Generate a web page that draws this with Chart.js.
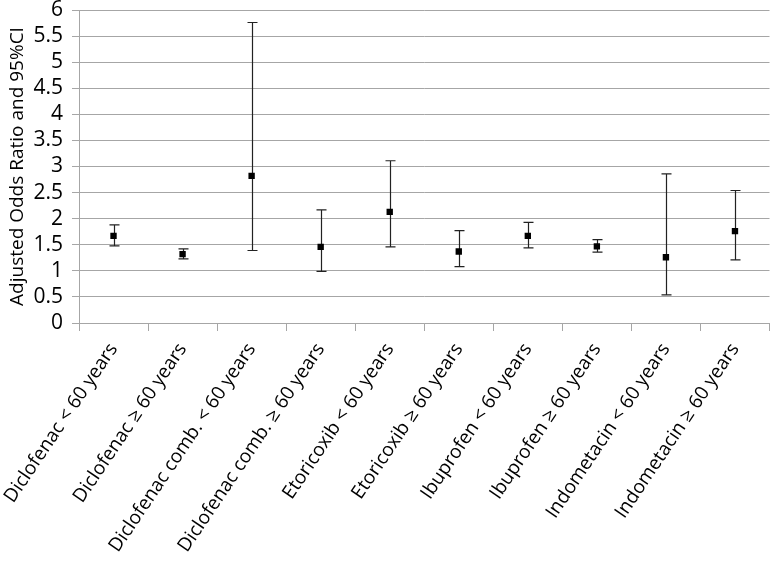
<!DOCTYPE html>
<html lang="en">
<head>
  <meta charset="UTF-8">
  <title>Adjusted Odds Ratio and 95%CI</title>
  <script src="https://cdn.jsdelivr.net/npm/chart.js"></script>
  <style>
    html, body {
      margin: 0;
      padding: 0;
      background: #ffffff;
    }
    #wrap {
      width: 774px;
      height: 568px;
    }
  </style>
</head>
<body>
  <div id="wrap"><canvas id="grafico"></canvas></div>

  <script>
    // categories and values
    const categorias = [
      'Diclofenac < 60 years',
      'Diclofenac \u2265 60 years',
      'Diclofenac comb. < 60 years',
      'Diclofenac comb. \u2265 60 years',
      'Etoricoxib < 60 years',
      'Etoricoxib \u2265 60 years',
      'Ibuprofen < 60 years',
      'Ibuprofen \u2265 60 years',
      'Indometacin < 60 years',
      'Indometacin \u2265 60 years'
    ];
    const oddsRatio = [1.67, 1.32, 2.82, 1.46, 2.13, 1.37, 1.67, 1.47, 1.26, 1.76];
    const ciInferior = [1.48, 1.23, 1.39, 0.99, 1.46, 1.08, 1.44, 1.36, 0.54, 1.21];
    const ciSuperior = [1.88, 1.42, 5.76, 2.17, 3.11, 1.77, 1.93, 1.60, 2.86, 2.54];
    const yTickLabels = ['0', '0.5', '1', '1.5', '2', '2.5', '3', '3.5', '4', '4.5', '5', '5.5', '6'];

    const gris = '#a6a6a6';
    const fuente = "'Open Sans', sans-serif";

    // barras de error dibujadas con las escalas del gráfico
    const barrasError = {
      id: 'barrasError',
      beforeDatasetsDraw(chart) {
        const ctx = chart.ctx;
        const xs = chart.scales.x;
        const ys = chart.scales.y;
        ctx.save();
        ctx.strokeStyle = '#222';
        ctx.lineWidth = 1.2;
        for (let i = 0; i < categorias.length; i++) {
          const x = Math.round(xs.getPixelForValue(i)) + 0.5;
          const y1 = ys.getPixelForValue(ciInferior[i]);
          const y2 = ys.getPixelForValue(ciSuperior[i]);
          ctx.beginPath();
          ctx.moveTo(x, y1);
          ctx.lineTo(x, y2);
          ctx.moveTo(x - 5, y1);
          ctx.lineTo(x + 5, y1);
          ctx.moveTo(x - 5, y2);
          ctx.lineTo(x + 5, y2);
          ctx.stroke();
        }
        ctx.restore();
      }
    };

    new Chart(document.getElementById('grafico').getContext('2d'), {
      type: 'line',
      data: {
        labels: categorias,
        datasets: [{
          label: 'Adjusted Odds Ratio',
          data: oddsRatio,
          showLine: false,
          pointStyle: 'rect',
          pointRadius: 4.5,
          pointBackgroundColor: '#000',
          pointBorderColor: '#000',
          pointBorderWidth: 0
        }]
      },
      options: {
        responsive: true,
        maintainAspectRatio: false,
        animation: false,
        layout: { padding: { top: 0, right: 3, left: 0, bottom: 0 } },
        plugins: {
          legend: { display: false },
          tooltip: { enabled: false }
        },
        scales: {
          x: {
            offset: true,
            grid: {
              display: true,
              offset: true,
              drawOnChartArea: false,
              color: gris,
              tickLength: 8
            },
            border: { display: true, color: gris },
            ticks: {
              color: '#000',
              font: { family: fuente, size: 19 },
              maxRotation: 56,
              minRotation: 56,
              padding: 8,
              autoSkip: false
            },
            afterFit: s => { s.height = 245; s.paddingLeft = 0; s.paddingRight = 0; }
          },
          y: {
            min: 0,
            max: 6,
            ticks: {
              stepSize: 0.5,
              autoSkip: false,
              color: '#000',
              font: { family: fuente, size: 21 },
              padding: 9,
              callback: (v, i) => yTickLabels[i]
            },
            grid: {
              color: gris,
              tickLength: 7
            },
            border: { display: true, color: gris },
            title: {
              display: true,
              text: 'Adjusted Odds Ratio and 95%CI',
              color: '#000',
              font: { family: fuente, size: 19 },
              padding: { top: 6, bottom: 0 }
            },
            afterFit: s => { s.width = 79; s.paddingTop = 10; s.paddingBottom = 0; }
          }
        }
      },
      plugins: [barrasError]
    });
  </script>
</body>
</html>
